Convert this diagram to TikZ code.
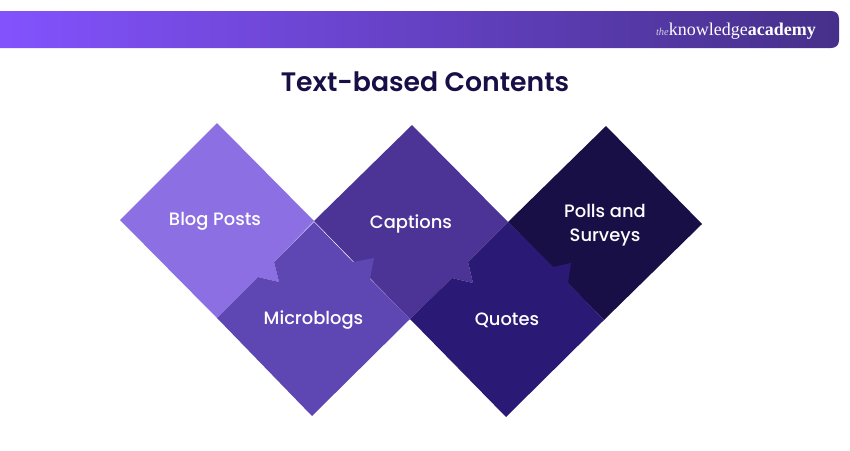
\documentclass[tikz,border=0pt]{standalone}
\usepackage{fontspec}
\setmainfont{Poppins}
\newfontfamily\titlefont{Poppins SemiBold}
\newfontfamily\labelfont{Poppins Medium}
\newfontfamily\logofont{Liberation Serif}
\definecolor{barL}{HTML}{8352FD}
\definecolor{barR}{HTML}{46308A}
\definecolor{blogc}{HTML}{8B6FE3}
\definecolor{microc}{HTML}{5E46B3}
\definecolor{capc}{HTML}{4B3496}
\definecolor{quotec}{HTML}{2B1A75}
\definecolor{pollc}{HTML}{190F47}
\tikzset{
  lbl/.style={text=white,font=\labelfont\fontsize{17.9}{24}\selectfont,align=center,inner sep=0pt},
  ttl/.style={text=pollc,font=\titlefont\fontsize{26.7}{30}\selectfont,inner sep=0pt},
  logotext/.style={text=white,inner sep=0pt,anchor=base east}
}
\begin{document}
\begin{tikzpicture}[x=1pt,y=-1pt]
\useasboundingbox (0,0) rectangle (850,450);
\shade[left color=barL,right color=barR] (0,11) -- (831,11) .. controls (836,11) and (839,14) .. (839,19) -- (839,40) .. controls (839,45) and (836,48) .. (831,48) -- (0,48) -- cycle;
\node[logotext] (logo) at (816,35) {\logofont{\fontsize{10.5}{10}\selectfont\itshape\color{white!75!barR}the}\fontsize{18}{18}\selectfont knowledge\textbf{academy}};
\node[ttl] (title) at (425,82) {Text-based Contents};
% back diamonds, each with the arrow point it pushes into the next one
\fill[blogc] (120,220) -- (217,123) -- (314,221) -- (274,262) -- (279,282) -- (258,277) -- (217,318) -- cycle;
\fill[capc] (314,221) -- (412,125) -- (508,222) -- (468,262) -- (473,283) -- (452,278) -- (410,319) -- cycle;
\fill[pollc] (508,222) -- (606,126) -- (702,224) -- (604,320) -- cycle;
% front diamonds
\fill[microc] (314,222) -- (353,262) -- (374,258) -- (370,279) -- (410,319) -- (312,416) -- (217,318) -- (258,277) -- (279,282) -- (274,262) -- cycle;
\fill[quotec] (508,222) -- (553,267) -- (571,263) -- (568,283) -- (604,320) -- (506,417) -- (410,319) -- (452,278) -- (473,283) -- (468,262) -- cycle;
% labels
\node[lbl] (blog) at (215,221) {Blog Posts};
\node[lbl] (micro) at (313.5,320) {Microblogs};
\node[lbl] (captions) at (411,224) {Captions};
\node[lbl] (quotes) at (507,320) {Quotes};
\node[lbl] (polls) at (605,225) {Polls and\\Surveys};
\end{tikzpicture}
\end{document}
